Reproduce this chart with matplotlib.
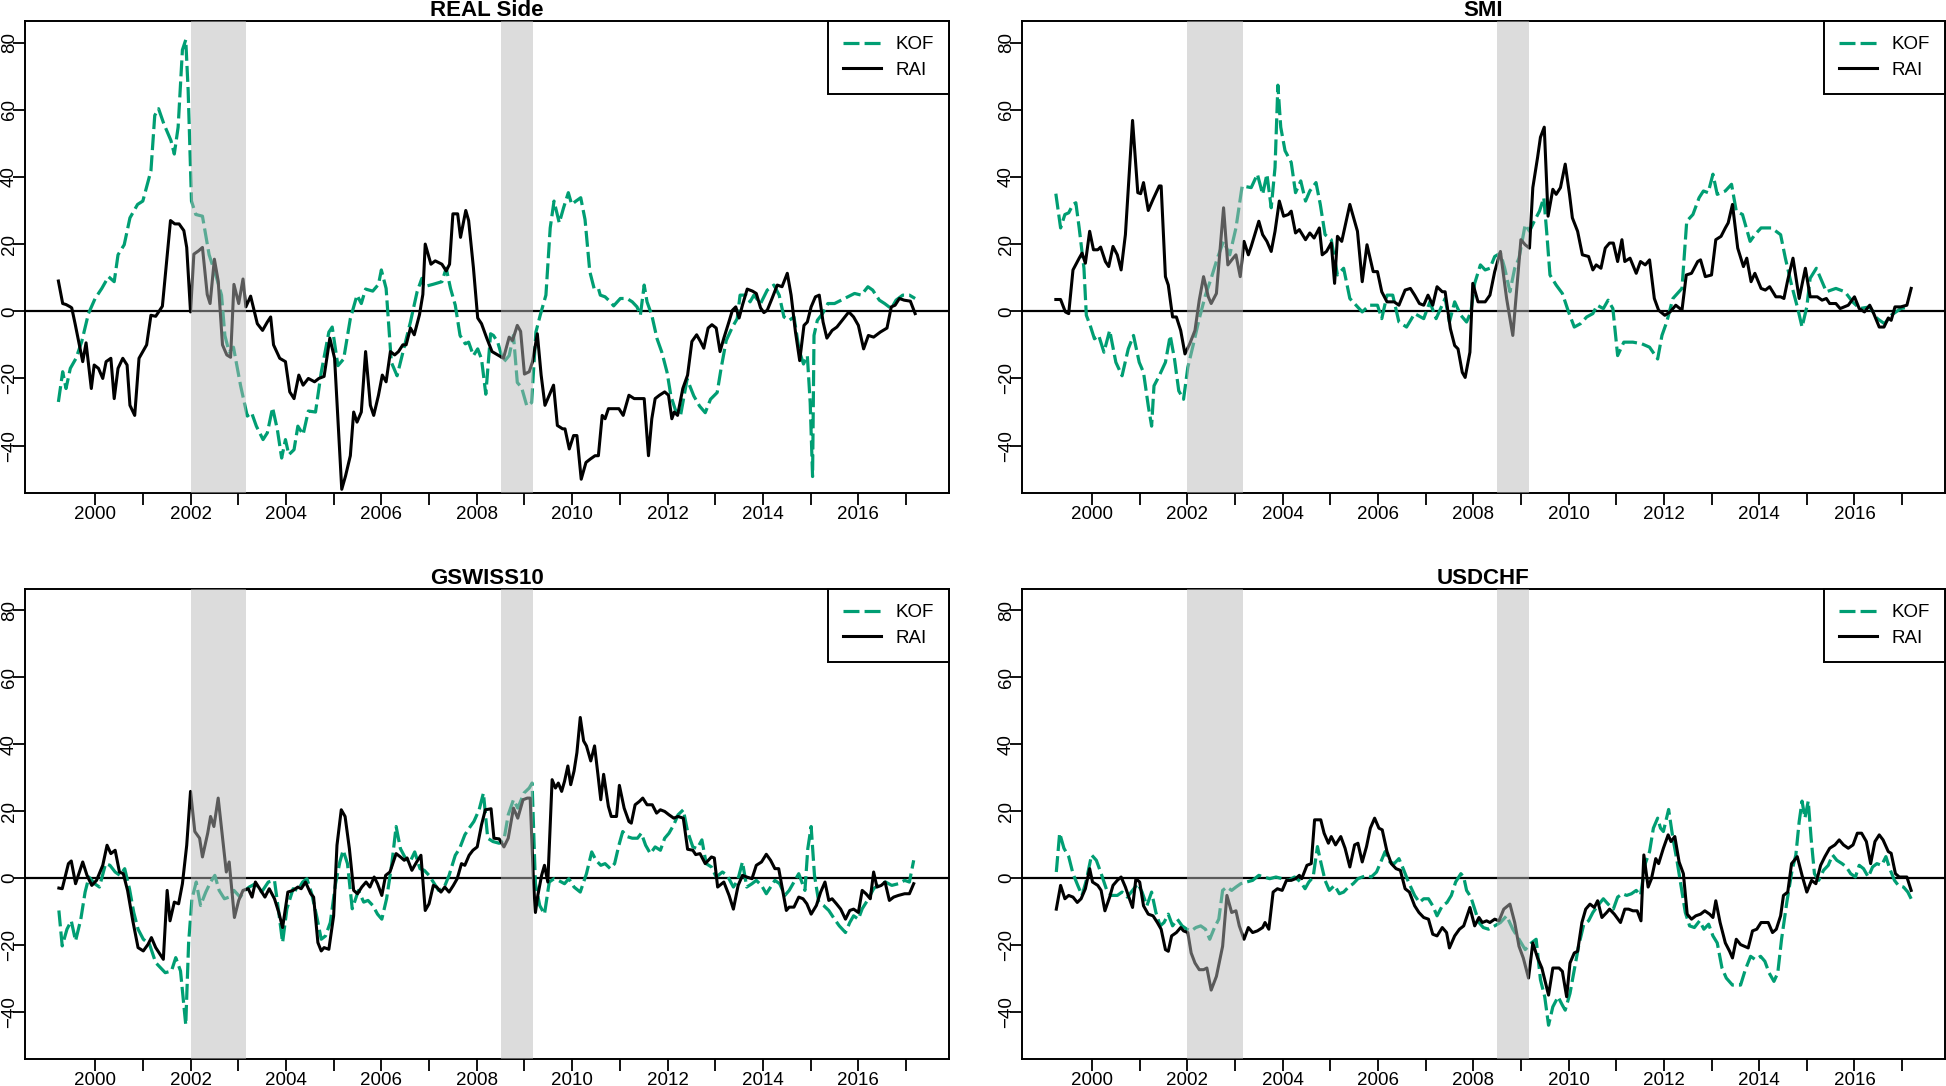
import numpy as np
import matplotlib.pyplot as plt

plt.rcParams['font.family'] = ['Liberation Sans', 'DejaVu Sans']

years = list(range(2000, 2018))
year_labels = [str(y) if y % 2 == 0 else '' for y in years]
value_ticks = [-40, -20, 0, 20, 40, 60, 80]
recessions = [(2002.0, 2003.17), (2008.5, 2009.17)]
titles = ['REAL Side', 'SMI', 'GSWISS10', 'USDCHF']

# (year, value)
real_rai = [(1999.23, 9), (1999.32, 2.3), (1999.39, 2), (1999.48, 1.3), (1999.51, 1.0), (1999.58, -3.7),
            (1999.67, -10), (1999.74, -15), (1999.81, -9.4), (1999.92, -23), (1999.98, -16), (2000.07, -17),
            (2000.16, -20), (2000.23, -15), (2000.33, -14), (2000.40, -26), (2000.48, -17), (2000.58, -14),
            (2000.67, -16), (2000.73, -28), (2000.83, -31), (2000.92, -14), (2001.08, -10), (2001.17, -1.2),
            (2001.27, -1.5), (2001.33, -0.2), (2001.41, 1.5), (2001.58, 27), (2001.67, 26), (2001.76, 26),
            (2001.86, 24), (2001.92, 19), (2002.0, -0.2), (2002.07, 17), (2002.17, 18), (2002.25, 19),
            (2002.35, 5), (2002.41, 2.3), (2002.5, 15.5), (2002.58, 9), (2002.67, -10), (2002.76, -13),
            (2002.84, -13.7), (2002.91, 8), (2003.01, 2.3), (2003.1, 9.6), (2003.16, 1.3), (2003.26, 4.5),
            (2003.4, -3.7), (2003.51, -5.7), (2003.61, -3.2), (2003.68, -1.7), (2003.74, -10), (2003.87, -14),
            (2003.99, -15), (2004.08, -24), (2004.17, -26), (2004.27, -19), (2004.36, -22), (2004.47, -20),
            (2004.6, -21), (2004.69, -20), (2004.8, -19.4), (2004.92, -8), (2005.02, -14), (2005.17, -53),
            (2005.25, -49), (2005.35, -43), (2005.42, -30), (2005.49, -33), (2005.58, -30), (2005.67, -12),
            (2005.77, -28), (2005.84, -31), (2005.94, -25), (2006.02, -19), (2006.1, -21), (2006.19, -12),
            (2006.28, -13), (2006.36, -12), (2006.45, -10), (2006.52, -10), (2006.61, -5), (2006.69, -7),
            (2006.8, -1), (2006.87, 5), (2006.92, 20), (2007.04, 14), (2007.13, 15), (2007.27, 14),
            (2007.36, 12), (2007.43, 14), (2007.5, 29), (2007.6, 29), (2007.66, 22), (2007.77, 30),
            (2007.83, 27), (2007.93, 13), (2008.02, -2), (2008.1, -3.7), (2008.21, -8), (2008.32, -12),
            (2008.44, -13), (2008.56, -14), (2008.68, -7.7), (2008.75, -8.7), (2008.85, -4.2), (2008.92, -6),
            (2009.0, -18.7), (2009.1, -18), (2009.17, -15), (2009.27, -6.7), (2009.35, -19), (2009.43, -28),
            (2009.52, -25), (2009.61, -22), (2009.69, -34), (2009.8, -35), (2009.85, -35), (2009.94, -41),
            (2010.03, -37), (2010.1, -37), (2010.19, -50), (2010.29, -45), (2010.38, -44), (2010.48, -43),
            (2010.55, -43), (2010.63, -31), (2010.69, -32), (2010.76, -29), (2010.85, -29), (2010.98, -29),
            (2011.07, -31), (2011.19, -25), (2011.3, -26), (2011.44, -26), (2011.51, -26), (2011.6, -43),
            (2011.67, -32), (2011.74, -26), (2011.83, -25), (2011.94, -24), (2012.02, -25), (2012.09, -32),
            (2012.14, -30), (2012.21, -31), (2012.32, -23), (2012.42, -19), (2012.51, -9), (2012.61, -7),
            (2012.69, -9), (2012.76, -11), (2012.85, -5), (2012.93, -4), (2013.02, -5), (2013.1, -12),
            (2013.18, -8), (2013.29, -3), (2013.36, 0.3), (2013.43, 1.3), (2013.5, -2), (2013.57, 1.8),
            (2013.67, 6.6), (2013.78, 6), (2013.86, 5.3), (2013.95, 1), (2014.02, -0.4), (2014.09, 0.3),
            (2014.19, 3.8), (2014.3, 7.8), (2014.4, 7.3), (2014.51, 11.3), (2014.59, 4.8), (2014.68, -6),
            (2014.77, -14.7), (2014.86, -4.2), (2014.93, -3.2), (2015.01, 1.3), (2015.1, 4.3), (2015.18, 4.8),
            (2015.26, -3.2), (2015.34, -8), (2015.45, -5.7), (2015.55, -4.7), (2015.66, -2.7), (2015.8, -0.2),
            (2015.9, -1.7), (2016.0, -4.2), (2016.11, -11.2), (2016.21, -7.2), (2016.32, -7.7), (2016.46, -6.2),
            (2016.6, -5), (2016.69, 1.3), (2016.77, 1.8), (2016.86, 3.8), (2016.96, 3.3), (2017.09, 3),
            (2017.19, -0.7)]

real_kof = [(1999.23, -27), (1999.32, -18), (1999.39, -23), (1999.48, -17), (1999.6, -14), (1999.72, -9),
            (1999.86, -0.7), (2000.0, 3.8), (2000.14, 6.8), (2000.28, 10.3), (2000.4, 8.8), (2000.48, 16.8),
            (2000.61, 19.8), (2000.73, 27.8), (2000.89, 31.8), (2001.0, 32.8), (2001.17, 41.8), (2001.25, 58.3),
            (2001.33, 60.3), (2001.44, 55.8), (2001.59, 50.8), (2001.66, 46.8), (2001.74, 54.8), (2001.83, 77.8),
            (2001.9, 80.8), (2001.95, 65.8), (2002.02, 32.8), (2002.11, 28.8), (2002.25, 28.3), (2002.39, 16.8),
            (2002.55, 9.8), (2002.65, 4.8), (2002.72, -7.2), (2002.81, -12.2), (2002.9, -10.7), (2003.05, -22.2),
            (2003.19, -31.2), (2003.28, -30.2), (2003.38, -34.2), (2003.52, -38.2), (2003.61, -36.2),
            (2003.72, -28.7), (2003.82, -35.2), (2003.91, -43.7), (2003.99, -38.2), (2004.06, -42.7),
            (2004.17, -41.2), (2004.25, -34.2), (2004.36, -36.7), (2004.47, -29.7), (2004.62, -30),
            (2004.74, -18.2), (2004.9, -6.2), (2004.97, -4.7), (2005.09, -16.2), (2005.21, -14.2),
            (2005.35, -2.2), (2005.49, 4.8), (2005.58, 2.3), (2005.67, 6.6), (2005.82, 6), (2005.94, 8),
            (2006.0, 12.3), (2006.1, 6.8), (2006.21, -15.2), (2006.33, -19.2), (2006.47, -11.2), (2006.61, -3.2),
            (2006.75, 5.8), (2006.85, 9.8), (2006.89, 7.3), (2007.08, 8), (2007.27, 8.8), (2007.36, 12.8),
            (2007.45, 6.8), (2007.55, 1.8), (2007.65, -7.2), (2007.76, -9.7), (2007.83, -9.2), (2007.93, -13.2),
            (2008.02, -11.2), (2008.1, -14.2), (2008.19, -24.7), (2008.29, -6.7), (2008.35, -7.2),
            (2008.44, -9.2), (2008.56, -15.2), (2008.68, -13.2), (2008.77, -7.2), (2008.85, -21.2),
            (2008.94, -22.7), (2009.05, -28.2), (2009.15, -27.2), (2009.24, -6.2), (2009.33, -1.2),
            (2009.45, 4.8), (2009.54, 24.8), (2009.62, 32.8), (2009.73, 26.3), (2009.82, 30.8), (2009.92, 35.3),
            (2009.99, 31.8), (2010.08, 32.8), (2010.18, 33.8), (2010.27, 27.3), (2010.37, 11.8), (2010.46, 6.8),
            (2010.55, 6.8), (2010.59, 4.8), (2010.69, 4.3), (2010.8, 2.8), (2010.87, 1.6), (2011.01, 3.8),
            (2011.15, 3.8), (2011.26, 2.8), (2011.36, 1.3), (2011.43, -1.2), (2011.51, 7.8), (2011.57, 2.8),
            (2011.67, -1.2), (2011.78, -8.2), (2011.88, -12.2), (2011.99, -18.2), (2012.07, -25.2),
            (2012.16, -29.2), (2012.27, -31.2), (2012.41, -20.2), (2012.55, -25.2), (2012.67, -28.2),
            (2012.79, -30.2), (2012.9, -26.2), (2013.04, -24.2), (2013.12, -17.2), (2013.23, -8.7),
            (2013.36, -4.7), (2013.46, -2.2), (2013.52, 4.8), (2013.64, 4.8), (2013.73, 2.8), (2013.81, 4.8),
            (2013.95, 2.3), (2014.09, 6.3), (2014.23, 7.8), (2014.34, 4.8), (2014.44, -1.7), (2014.55, -2.7),
            (2014.65, -1.7), (2014.76, -11.7), (2014.85, -15.7), (2014.93, -13.2), (2014.99, -27.2),
            (2015.04, -49.2), (2015.07, -7.2), (2015.14, -2.7), (2015.25, -0.7), (2015.36, 2.3), (2015.5, 2.3),
            (2015.64, 3.3), (2015.78, 4.3), (2015.92, 5.3), (2016.06, 4.8), (2016.2, 7.3), (2016.3, 6.3),
            (2016.44, 3.3), (2016.55, 2.3), (2016.69, 0.8), (2016.79, 3.3), (2016.93, 4.8), (2017.07, 4.8),
            (2017.19, 3.8)]

smi_rai = [(1999.24, 3.5), (1999.34, 3.5), (1999.44, -0.2), (1999.51, -0.7), (1999.6, 12.3), (1999.73, 15.8),
           (1999.79, 17.3), (1999.86, 14.3), (1999.95, 23.8), (2000.03, 18.3), (2000.12, 18.3), (2000.18, 19.1),
           (2000.28, 14.8), (2000.35, 13.3), (2000.44, 19.3), (2000.53, 16.8), (2000.61, 12.3), (2000.7, 22.8),
           (2000.85, 56.8), (2000.96, 35.3), (2001.02, 35), (2001.08, 38.3), (2001.18, 30), (2001.28, 33.3),
           (2001.41, 37.3), (2001.45, 37.3), (2001.54, 10.3), (2001.6, 7.8), (2001.69, -1.7), (2001.77, -1.7),
           (2001.86, -5.7), (2001.95, -12.7), (2002.05, -9.7), (2002.16, -5.7), (2002.25, 3.3), (2002.34, 10.3),
           (2002.44, 4.3), (2002.5, 2.3), (2002.61, 5.3), (2002.76, 30.8), (2002.85, 13.8), (2002.96, 15.8),
           (2003.02, 16.8), (2003.11, 10.3), (2003.19, 20.8), (2003.28, 16.8), (2003.34, 19.3), (2003.5, 26.8),
           (2003.58, 22.8), (2003.67, 20.8), (2003.76, 17.8), (2003.84, 23.8), (2003.93, 32.8), (2004.02, 28.3),
           (2004.12, 28.8), (2004.18, 29.8), (2004.27, 23.3), (2004.35, 24.3), (2004.48, 21.3), (2004.57, 23.3),
           (2004.66, 21.8), (2004.77, 24.8), (2004.83, 16.8), (2004.92, 17.8), (2005.02, 20.3), (2005.09, 8.3),
           (2005.15, 22.3), (2005.24, 20.8), (2005.41, 31.8), (2005.57, 23.8), (2005.67, 8.8), (2005.77, 19.8),
           (2005.9, 11.8), (2005.99, 11.8), (2006.08, 5.8), (2006.19, 2.8), (2006.34, 2.8), (2006.44, 1.8),
           (2006.57, 6.3), (2006.68, 6.8), (2006.77, 4.8), (2006.87, 2.3), (2006.96, 1.8), (2007.05, 4.8),
           (2007.15, 1.8), (2007.24, 7.3), (2007.35, 5.8), (2007.41, 5.8), (2007.52, -5.2), (2007.61, -10.2),
           (2007.68, -11.2), (2007.77, -18.2), (2007.83, -19.7), (2007.93, -12.2), (2007.99, 8.3), (2008.1, 2.8),
           (2008.25, 2.8), (2008.35, 4.8), (2008.45, 11.8), (2008.57, 17.8), (2008.7, 3.8), (2008.83, -7.2),
           (2008.92, 7.8), (2009.0, 21.3), (2009.09, 19.8), (2009.18, 18.8), (2009.25, 36.8), (2009.35, 45.8),
           (2009.41, 51.8), (2009.49, 54.8), (2009.57, 28.3), (2009.67, 36.3), (2009.74, 34.8), (2009.83, 36.8),
           (2009.93, 43.8), (2010.02, 34.8), (2010.08, 27.8), (2010.19, 23.8), (2010.29, 16.8), (2010.42, 16.3),
           (2010.51, 12.3), (2010.58, 13.8), (2010.68, 12.8), (2010.77, 18.8), (2010.86, 20.3), (2010.94, 20.3),
           (2011.03, 14.8), (2011.12, 21.3), (2011.18, 14.8), (2011.29, 15.8), (2011.42, 11.3), (2011.51, 14.8),
           (2011.61, 13.8), (2011.7, 15.3), (2011.8, 3.8), (2011.89, 0.3), (2012.02, -1.2), (2012.13, -0.2),
           (2012.25, 1.8), (2012.38, 0.3), (2012.47, 10.8), (2012.58, 11.3), (2012.71, 14.8), (2012.77, 15.3),
           (2012.87, 10.3), (2013.0, 10.8), (2013.09, 21.3), (2013.2, 22.3), (2013.29, 24.8), (2013.35, 26.3),
           (2013.44, 31.8), (2013.55, 18.8), (2013.67, 13.3), (2013.74, 15.8), (2013.83, 8.8), (2013.91, 11.3),
           (2014.04, 6.8), (2014.13, 6.3), (2014.22, 7.3), (2014.35, 4.3), (2014.45, 4.3), (2014.52, 3.8),
           (2014.6, 9.3), (2014.71, 15.8), (2014.84, 3.8), (2014.97, 12.8), (2015.07, 4.3), (2015.22, 4.3),
           (2015.32, 3.3), (2015.41, 3.8), (2015.48, 2.3), (2015.61, 2.3), (2015.7, 0.8), (2015.87, 1.8),
           (2016.0, 4.3), (2016.1, 0.8), (2016.21, -0.2), (2016.32, 1.8), (2016.39, -0.2), (2016.52, -4.7),
           (2016.62, -4.7), (2016.71, -2), (2016.77, -2.7), (2016.85, 1.3), (2016.97, 1.3), (2017.1, 1.8),
           (2017.19, 6.8)]

smi_kof = [(1999.24, 35), (1999.34, 24.8), (1999.43, 28.8), (1999.51, 29.3), (1999.6, 31.8), (1999.66, 32.3),
           (1999.73, 24.8), (1999.83, 12.8), (1999.88, -1.2), (1999.96, -4.2), (2000.05, -8.2), (2000.14, -7.2),
           (2000.25, -12.2), (2000.37, -5.7), (2000.5, -15.2), (2000.63, -19.2), (2000.76, -11.2), (2000.87, -7.2),
           (2000.99, -15.2), (2001.08, -18.2), (2001.18, -28.2), (2001.25, -34.2), (2001.3, -22.2), (2001.41, -19.2),
           (2001.54, -15.2), (2001.64, -7.2), (2001.73, -14.2), (2001.82, -23.7), (2001.92, -26.2), (2002.01, -16.7),
           (2002.12, -10.2), (2002.25, -2.2), (2002.38, 4.8), (2002.5, 9.8), (2002.63, 15.8), (2002.76, 20.8),
           (2002.89, 16.8), (2003.02, 24.8), (2003.15, 37.3), (2003.34, 36.8), (2003.47, 40.8), (2003.58, 34.8),
           (2003.67, 40.8), (2003.76, 30.8), (2003.84, 42.8), (2003.9, 67.3), (2003.96, 54.8), (2004.05, 47.8),
           (2004.18, 44.3), (2004.27, 35.3), (2004.38, 38.8), (2004.48, 32.8), (2004.57, 35.8), (2004.7, 38.3),
           (2004.79, 31.8), (2004.89, 22.8), (2005.02, 21.3), (2005.15, 10.8), (2005.28, 12.8), (2005.41, 3.8),
           (2005.54, 1.8), (2005.67, -0.2), (2005.82, 1.8), (2005.99, 1.8), (2006.08, -2.2), (2006.19, 4.8),
           (2006.31, 4.8), (2006.44, -3.2), (2006.6, -4.7), (2006.77, -0.7), (2006.96, -2.2), (2007.09, 2.8),
           (2007.22, -2.2), (2007.41, 3.8), (2007.5, -3.2), (2007.61, 2.8), (2007.74, -1.2), (2007.86, -3.2),
           (2007.95, -0.2), (2008.03, 8.3), (2008.15, 13.8), (2008.25, 12.3), (2008.35, 12.8), (2008.45, 16.3),
           (2008.57, 17.3), (2008.66, 12.8), (2008.77, 5.8), (2008.87, 12.8), (2008.96, 15.8), (2009.09, 25.8),
           (2009.18, 23.8), (2009.28, 26.8), (2009.39, 29.8), (2009.48, 33.8), (2009.54, 23.8), (2009.61, 10.8),
           (2009.74, 7.8), (2009.87, 5.3), (2010.0, -0.2), (2010.12, -4.7), (2010.25, -3.7), (2010.38, -1.7),
           (2010.51, -0.7), (2010.6, 1.8), (2010.73, 0.8), (2010.83, 3.3), (2010.93, 0.8), (2011.03, -13.2),
           (2011.16, -9.2), (2011.35, -9.2), (2011.54, -9.7), (2011.7, -10.7), (2011.87, -14.2), (2011.96, -7.2),
           (2012.06, -3.2), (2012.19, 3.8), (2012.38, 6.8), (2012.48, 26.8), (2012.61, 28.8), (2012.74, 33.8),
           (2012.83, 35.8), (2012.93, 35.3), (2013.03, 40.8), (2013.12, 34.8), (2013.29, 35.8), (2013.42, 37.8),
           (2013.52, 29.8), (2013.65, 28.8), (2013.81, 20.8), (2013.91, 22.8), (2014.04, 24.8), (2014.26, 24.8),
           (2014.45, 22.8), (2014.55, 15.8), (2014.68, 7.8), (2014.81, 0.8), (2014.9, -4.7), (2015.0, 1.3),
           (2015.07, 9.8), (2015.2, 12.8), (2015.32, 8.8), (2015.41, 5.8), (2015.61, 6.8), (2015.8, 5.8),
           (2015.96, 2.8), (2016.11, 0.8), (2016.32, 1.3), (2016.48, -2.2), (2016.63, -3.7), (2016.77, -1.2),
           (2016.97, 0.8), (2017.16, 1.3)]

gswiss_rai = [(1999.24, -3), (1999.31, -3.2), (1999.44, 4.3), (1999.5, 5.1), (1999.59, -1.7), (1999.74, 4.8),
              (1999.83, 0.8), (1999.93, -2.2), (2000.03, -0.7), (2000.16, 3.8), (2000.25, 9.8), (2000.33, 7.3),
              (2000.42, 8.3), (2000.51, 1.8), (2000.59, 1.3), (2000.68, -3.7), (2000.79, -12.8), (2000.9, -20.8),
              (2001.01, -21.8), (2001.11, -19.8), (2001.18, -17.8), (2001.27, -20.8), (2001.43, -24.3),
              (2001.51, -3.7), (2001.57, -12.8), (2001.66, -7.2), (2001.75, -7.7), (2001.83, -1.7), (2001.92, 9.8),
              (2002.0, 25.9), (2002.09, 13.9), (2002.19, 11.9), (2002.25, 6.3), (2002.36, 13.4), (2002.42, 18.4),
              (2002.49, 15.4), (2002.58, 23.9), (2002.68, 10.9), (2002.75, 1.8), (2002.81, 4.8), (2002.92, -11.8),
              (2003.01, -6.7), (2003.1, -3.7), (2003.21, -3.2), (2003.29, -5.7), (2003.36, -1.2), (2003.47, -3.7),
              (2003.56, -5.7), (2003.65, -3.2), (2003.76, -6.2), (2003.85, -10.3), (2003.93, -14.8), (2004.04, -4.2),
              (2004.15, -3.7), (2004.25, -2.7), (2004.32, -3.2), (2004.41, -1.2), (2004.52, -4.7), (2004.58, -5.7),
              (2004.67, -19.3), (2004.74, -21.8), (2004.8, -20.8), (2004.9, -21.3), (2005.0, -11.3), (2005.07, 9.8),
              (2005.16, 20.4), (2005.24, 18.4), (2005.33, 8.8), (2005.42, -3.7), (2005.5, -4.7), (2005.59, -2.7),
              (2005.68, -1.2), (2005.76, -2.7), (2005.85, 0.3), (2005.92, -1.7), (2006.01, -5.2), (2006.09, 0.8),
              (2006.18, 1.8), (2006.31, 7.3), (2006.4, 6.3), (2006.48, 5.3), (2006.54, 6.0), (2006.64, 2.3),
              (2006.74, 4.8), (2006.83, 6.8), (2006.92, -9.7), (2007.0, -7.7), (2007.09, -2.2), (2007.16, -2.7),
              (2007.25, -4.2), (2007.33, -2.7), (2007.42, -4.2), (2007.51, -2.2), (2007.59, -0.2), (2007.68, 4.3),
              (2007.75, 3.8), (2007.84, 6.8), (2007.92, 8.3), (2008.01, 9.3), (2008.1, 15.9), (2008.18, 20.4),
              (2008.3, 20.7), (2008.36, 11.9), (2008.47, 11.7), (2008.57, 9.3), (2008.66, 11.9), (2008.77, 20.9),
              (2008.86, 17.9), (2008.97, 23.4), (2009.06, 23.9), (2009.12, 23.9), (2009.19, -1.2), (2009.23, -10.3),
              (2009.28, -5.2), (2009.36, 0.8), (2009.42, 3.8), (2009.49, -1.2), (2009.58, 29.4), (2009.65, 26.9),
              (2009.71, 28.4), (2009.78, 25.9), (2009.84, 28.9), (2009.91, 33.5), (2009.97, 27.9), (2010.04, 32),
              (2010.1, 37.5), (2010.17, 48), (2010.24, 41), (2010.3, 39.5), (2010.39, 35), (2010.47, 39.5),
              (2010.54, 31), (2010.6, 23.4), (2010.66, 31), (2010.76, 21.4), (2010.82, 18.4), (2010.93, 18.4),
              (2010.99, 27.7), (2011.09, 20.9), (2011.19, 16.9), (2011.24, 16.4), (2011.32, 21.9), (2011.41, 22.9),
              (2011.48, 23.9), (2011.57, 21.9), (2011.68, 21.9), (2011.77, 19.4), (2011.85, 20.4), (2011.94, 19.9),
              (2012.03, 18.9), (2012.13, 17.9), (2012.22, 18.4), (2012.33, 17.9), (2012.42, 8.6), (2012.53, 8.3),
              (2012.59, 7.0), (2012.68, 7.3), (2012.79, 4.3), (2012.92, 6.3), (2012.98, 6.0), (2013.05, -2.7),
              (2013.18, -1.2), (2013.29, -5.2), (2013.38, -9.3), (2013.48, -2.2), (2013.57, 0.8), (2013.66, 0.3),
              (2013.77, -0.2), (2013.86, 3.8), (2013.97, 4.8), (2014.07, 7.1), (2014.16, 5.3), (2014.25, 2.8),
              (2014.33, 2.8), (2014.42, -4.2), (2014.49, -9.7), (2014.55, -8.7), (2014.65, -8.7), (2014.75, -5.7),
              (2014.84, -6.2), (2014.92, -7.7), (2015.01, -10.8), (2015.12, -8.2), (2015.21, -4.2), (2015.3, -1.2),
              (2015.38, -6.7), (2015.45, -6.2), (2015.54, -7.7), (2015.63, -9.3), (2015.73, -12.3), (2015.82, -9.7),
              (2015.9, -9.3), (2016.0, -10.3), (2016.08, -3.7), (2016.16, -4.7), (2016.25, -6.2), (2016.32, 1.8),
              (2016.39, -2.7), (2016.48, -2.2), (2016.56, -1.2), (2016.65, -6.7), (2016.74, -5.7), (2016.84, -5.2),
              (2016.97, -4.7), (2017.07, -4.7), (2017.16, -1.7)]

gswiss_kof = [(1999.24, -9.7), (1999.31, -20.3), (1999.41, -15.3), (1999.5, -12.8), (1999.59, -18.8),
              (1999.7, -12.3), (1999.79, -4.2), (1999.87, 0.3), (1999.99, -1.7), (2000.09, -2.7), (2000.22, 4.3),
              (2000.31, 3.8), (2000.42, 1.8), (2000.52, 0.8), (2000.62, 2.8), (2000.72, -3.2), (2000.81, -10.3),
              (2000.9, -15.3), (2001.01, -18.3), (2001.14, -19.8), (2001.27, -25.3), (2001.37, -26.8),
              (2001.47, -28.3), (2001.6, -27.8), (2001.69, -23.8), (2001.79, -27.8), (2001.9, -43.9),
              (2001.96, -19.3), (2002.03, -6.2), (2002.12, -1.2), (2002.21, -8.2), (2002.32, -4.2), (2002.42, -1.2),
              (2002.51, 0.8), (2002.6, -3.7), (2002.71, -6.2), (2002.81, -5.7), (2002.91, -3.7), (2003.04, -5.7),
              (2003.14, -3.7), (2003.23, -2.7), (2003.36, -1.7), (2003.49, -4.2), (2003.63, -1.2), (2003.76, -0.7),
              (2003.85, -10.3), (2003.93, -19.3), (2004.02, -9.2), (2004.15, -3.2), (2004.25, -3.7), (2004.35, -1.2),
              (2004.44, -0.2), (2004.54, -4.7), (2004.65, -11.8), (2004.74, -18.3), (2004.83, -17.3),
              (2004.93, -13.3), (2005.04, -1.7), (2005.13, 4.8), (2005.2, 8.3), (2005.29, 4.3), (2005.39, -9.2),
              (2005.52, -3.7), (2005.63, -7.2), (2005.72, -6.7), (2005.82, -8.2), (2005.92, -10.8), (2006.01, -12.3),
              (2006.11, -6.2), (2006.22, 4.3), (2006.31, 15.4), (2006.4, 8.8), (2006.51, 5.8), (2006.6, 4.8),
              (2006.7, 7.8), (2006.81, 2.8), (2006.9, 2.3), (2007.0, 0.8), (2007.09, -1.2), (2007.2, -3.7),
              (2007.32, -2.7), (2007.42, 0.8), (2007.55, 6.8), (2007.64, 8.8), (2007.75, 12.9), (2007.84, 14.9),
              (2007.94, 16.9), (2008.05, 20.4), (2008.14, 25.4), (2008.23, 11.9), (2008.34, 10.9), (2008.47, 10.4),
              (2008.57, 11.4), (2008.66, 18.9), (2008.77, 23.4), (2008.86, 20.9), (2008.99, 25.4), (2009.1, 26.9),
              (2009.16, 28.4), (2009.23, -1.7), (2009.32, -8.2), (2009.42, -10.8), (2009.52, -1.2), (2009.62, -0.2),
              (2009.71, -0.7), (2009.84, -1.7), (2009.93, -0.2), (2010.04, -2.7), (2010.17, -4.2), (2010.3, 1.3),
              (2010.41, 7.8), (2010.5, 5.3), (2010.6, 3.8), (2010.69, 4.3), (2010.8, 2.8), (2010.89, 4.3),
              (2010.98, 9.8), (2011.06, 13.9), (2011.15, 12.4), (2011.26, 11.9), (2011.37, 11.9), (2011.45, 13.4),
              (2011.54, 9.8), (2011.64, 7.3), (2011.74, 9.3), (2011.85, 8.3), (2011.94, 11.9), (2012.03, 13.4),
              (2012.13, 15.9), (2012.22, 18.9), (2012.33, 20.4), (2012.42, 13.9), (2012.53, 9.3), (2012.62, 8.8),
              (2012.72, 11.4), (2012.81, 4.3), (2012.92, 3.3), (2013.02, 0.3), (2013.15, 1.8), (2013.25, 0.8),
              (2013.38, -2.7), (2013.47, -0.7), (2013.57, 4.8), (2013.66, -2.7), (2013.77, -1.7), (2013.86, -0.7),
              (2013.97, -2.2), (2014.07, -4.7), (2014.16, -2.7), (2014.25, -0.7), (2014.35, -1.7), (2014.46, -5.2),
              (2014.55, -3.7), (2014.65, -1.2), (2014.75, 1.3), (2014.88, -3.7), (2014.94, 8.8), (2015.01, 15.4),
              (2015.08, 0.8), (2015.17, -7.2), (2015.27, -8.2), (2015.38, -9.7), (2015.5, -12.3), (2015.6, -14.3),
              (2015.73, -16.3), (2015.82, -13.3), (2015.9, -11.3), (2016.0, -12.3), (2016.08, -9.2), (2016.19, -6.7),
              (2016.32, -3.2), (2016.45, -1.7), (2016.57, -1.2), (2016.7, -2.2), (2016.84, -1.7), (2016.97, -0.7),
              (2017.07, -1.2), (2017.16, 5.3)]

usdchf_rai = [(1999.25, -9.3), (1999.34, -2.2), (1999.43, -6.2), (1999.51, -5.2), (1999.6, -5.7), (1999.69, -7.3),
              (1999.77, -6.2), (1999.86, -3.2), (1999.95, 2.8), (2000.01, -1.2), (2000.12, -2.2), (2000.19, -3.7),
              (2000.27, -9.8), (2000.37, -5.7), (2000.44, -2.2), (2000.53, -0.7), (2000.61, 0.3), (2000.7, -2.7),
              (2000.76, -5.2), (2000.85, -8.8), (2000.92, -0.2), (2001.0, -1.2), (2001.08, -8.3), (2001.18, -10.8),
              (2001.28, -11.3), (2001.37, -13.3), (2001.45, -15.3), (2001.54, -21.4), (2001.6, -21.9),
              (2001.67, -17.3), (2001.77, -16.3), (2001.86, -14.8), (2001.92, -15.8), (2002.01, -16.3),
              (2002.08, -22.4), (2002.16, -25.4), (2002.25, -27.4), (2002.34, -27.4), (2002.41, -26.9),
              (2002.5, -33.5), (2002.61, -29.4), (2002.74, -20.4), (2002.83, -5.2), (2002.93, -10.3), (2003.02, -9.8),
              (2003.09, -14.3), (2003.19, -18.3), (2003.28, -14.8), (2003.37, -16.3), (2003.47, -15.8),
              (2003.58, -14.8), (2003.63, -13.3), (2003.71, -15.3), (2003.8, -4.2), (2003.89, -3.2), (2003.99, -3.7),
              (2004.08, -0.7), (2004.18, -0.7), (2004.27, -0.2), (2004.35, 0.8), (2004.4, -0.2), (2004.51, 3.8),
              (2004.6, 4.3), (2004.67, 17.4), (2004.8, 17.4), (2004.87, 13.4), (2004.96, 10.4), (2005.02, 12.4),
              (2005.11, 9.9), (2005.22, 12.4), (2005.31, 8.9), (2005.41, 3.3), (2005.51, 9.9), (2005.58, 10.4),
              (2005.67, 4.8), (2005.76, 9.4), (2005.84, 14.9), (2005.93, 17.9), (2006.02, 14.9), (2006.09, 14.4),
              (2006.19, 7.9), (2006.28, 4.3), (2006.38, 2.8), (2006.47, 2.3), (2006.57, -3.2), (2006.66, -4.2),
              (2006.77, -8.3), (2006.86, -10.3), (2006.96, -11.8), (2007.06, -12.3), (2007.15, -16.8),
              (2007.24, -17.3), (2007.35, -14.8), (2007.44, -16.3), (2007.5, -20.9), (2007.61, -17.3),
              (2007.71, -15.3), (2007.8, -14.3), (2007.93, -8.8), (2008.03, -14.3), (2008.12, -11.8),
              (2008.19, -13.3), (2008.28, -12.8), (2008.35, -13.3), (2008.45, -12.3), (2008.54, -12.8),
              (2008.64, -9.3), (2008.77, -7.8), (2008.87, -13.3), (2008.96, -20.4), (2009.05, -23.9),
              (2009.16, -29.9), (2009.25, -19.4), (2009.35, -23.9), (2009.44, -26.9), (2009.52, -31.5),
              (2009.58, -35), (2009.67, -26.9), (2009.8, -26.9), (2009.87, -27.9), (2009.96, -35.5), (2010.03, -25.4),
              (2010.12, -22.4), (2010.19, -21.9), (2010.28, -13.3), (2010.36, -9.3), (2010.45, -7.8), (2010.54, -8.8),
              (2010.61, -6.8), (2010.7, -11.8), (2010.8, -10.3), (2010.86, -9.3), (2010.96, -10.8), (2011.09, -13.3),
              (2011.18, -9.3), (2011.26, -9.3), (2011.35, -9.8), (2011.44, -9.8), (2011.52, -12.8), (2011.58, 6.9),
              (2011.67, -2.7), (2011.74, -0.2), (2011.83, 5.8), (2011.89, 4.3), (2011.99, 8.9), (2012.09, 12.9),
              (2012.15, 10.9), (2012.23, 12.4), (2012.32, 4.8), (2012.41, 1.3), (2012.49, -10.8), (2012.58, -12.3),
              (2012.67, -11.3), (2012.77, -10.8), (2012.86, -9.8), (2012.96, -10.8), (2013.03, -11.8),
              (2013.09, -6.8), (2013.18, -13.3), (2013.29, -19.4), (2013.38, -21.9), (2013.44, -23.9),
              (2013.52, -18.3), (2013.61, -19.9), (2013.69, -20.4), (2013.77, -20.9), (2013.86, -15.8),
              (2013.95, -15.3), (2014.04, -13.3), (2014.12, -13.3), (2014.19, -13.3), (2014.28, -16.3),
              (2014.36, -15.3), (2014.45, -11.3), (2014.51, -5.2), (2014.6, -4.2), (2014.68, 4.3), (2014.8, 6.4),
              (2014.9, 0.8), (2015.0, -4.2), (2015.1, -0.7), (2015.19, -1.7), (2015.29, 3.8), (2015.38, 6.4),
              (2015.48, 8.9), (2015.59, 9.9), (2015.68, 11.4), (2015.77, 9.9), (2015.87, 8.9), (2015.97, 9.9),
              (2016.06, 13.4), (2016.15, 13.4), (2016.25, 10.9), (2016.34, 4.3), (2016.43, 10.9), (2016.52, 12.9),
              (2016.6, 11.4), (2016.71, 7.9), (2016.77, 7.4), (2016.86, 1.3), (2016.94, 0.3), (2017.03, 0.3),
              (2017.1, 0.3), (2017.19, -3.7)]

usdchf_kof = [(1999.25, 1.8), (1999.32, 13.4), (1999.41, 8.9), (1999.51, 6.4), (1999.6, 1.3), (1999.7, -2.2),
              (1999.79, -5.2), (1999.88, -0.7), (1999.99, 6.9), (2000.09, 5.3), (2000.18, 1.8), (2000.31, -3.7),
              (2000.41, -5.2), (2000.53, -5.2), (2000.63, -4.2), (2000.74, -5.7), (2000.85, -3.7), (2000.96, -1.7),
              (2001.05, -4.2), (2001.15, -8.3), (2001.25, -4.2), (2001.34, -10.3), (2001.43, -14.3), (2001.51, -13.3),
              (2001.6, -10.8), (2001.69, -14.3), (2001.79, -12.3), (2001.89, -14.3), (2001.99, -15.3),
              (2002.08, -15.8), (2002.18, -14.8), (2002.28, -14.3), (2002.38, -15.3), (2002.47, -18.3),
              (2002.57, -14.8), (2002.66, -12.3), (2002.74, -3.7), (2002.83, -2.7), (2002.93, -3.7), (2003.02, -2.7),
              (2003.12, -1.7), (2003.24, -1.2), (2003.37, -0.7), (2003.5, 0.8), (2003.6, 0.3), (2003.73, -0.2),
              (2003.86, 0.3), (2003.99, -0.2), (2004.12, -0.7), (2004.25, 0.3), (2004.38, -1.2), (2004.47, -3.2),
              (2004.55, -1.2), (2004.64, 0.3), (2004.73, 9.4), (2004.8, 4.8), (2004.89, -0.7), (2004.98, -3.7),
              (2005.09, -2.2), (2005.19, -4.7), (2005.28, -4.2), (2005.38, -2.7), (2005.48, -1.7), (2005.58, -0.2),
              (2005.67, 0.3), (2005.77, 0.8), (2005.86, 0.3), (2005.97, 1.8), (2006.06, 4.8), (2006.15, 7.9),
              (2006.25, 4.8), (2006.34, 4.3), (2006.44, 5.8), (2006.53, 2.8), (2006.64, -1.2), (2006.77, -5.2),
              (2006.87, -7.3), (2006.96, -6.2), (2007.06, -6.2), (2007.15, -8.3), (2007.24, -11.3), (2007.35, -8.3),
              (2007.45, -7.3), (2007.54, -5.2), (2007.63, -1.2), (2007.74, 1.3), (2007.8, 0.3), (2007.86, -3.7),
              (2007.95, -5.7), (2008.03, -9.3), (2008.12, -13.3), (2008.21, -14.8), (2008.32, -15.3),
              (2008.45, -14.3), (2008.57, -13.3), (2008.7, -11.3), (2008.83, -15.3), (2008.96, -18.3),
              (2009.09, -21.4), (2009.22, -19.4), (2009.32, -18.3), (2009.41, -30.4), (2009.5, -35.5), (2009.58, -44),
              (2009.67, -38.5), (2009.78, -35.5), (2009.87, -38), (2009.93, -39.5), (2010.03, -34.5),
              (2010.12, -27.4), (2010.21, -20.4), (2010.32, -13.8), (2010.42, -12.8), (2010.51, -10.3),
              (2010.61, -8.3), (2010.73, -6.2), (2010.83, -7.8), (2010.94, -9.3), (2011.03, -5.7), (2011.13, -4.7),
              (2011.22, -5.2), (2011.32, -4.7), (2011.42, -3.7), (2011.51, -5.2), (2011.61, 4.3), (2011.7, 7.9),
              (2011.78, 14.9), (2011.87, 17.9), (2011.93, 14.9), (2011.99, 13.9), (2012.1, 20.5), (2012.19, 11.9),
              (2012.28, 4.8), (2012.38, -4.2), (2012.45, -10.3), (2012.54, -14.3), (2012.64, -14.8),
              (2012.75, -12.8), (2012.84, -15.3), (2012.94, -13.8), (2013.03, -17.3), (2013.12, -19.4),
              (2013.22, -26.9), (2013.31, -29.9), (2013.44, -32), (2013.61, -32), (2013.71, -27.4), (2013.82, -23.4),
              (2013.92, -24.4), (2014.03, -23.4), (2014.12, -24.9), (2014.21, -28.4), (2014.31, -30.9),
              (2014.39, -28.4), (2014.47, -18.3), (2014.58, -7.3), (2014.69, 2.3), (2014.77, 6.9), (2014.84, 16.9),
              (2014.9, 23), (2014.96, 17.9), (2015.03, 23), (2015.09, 11.9), (2015.16, 1.3), (2015.25, -0.7),
              (2015.35, 2.3), (2015.45, 3.8), (2015.54, 6.9), (2015.63, 5.3), (2015.74, 4.3), (2015.83, 3.3),
              (2015.92, 1.3), (2016.02, 0.3), (2016.1, 3.8), (2016.19, 2.8), (2016.29, 0.3), (2016.38, 3.3),
              (2016.47, 4.3), (2016.57, 3.8), (2016.66, 6.4), (2016.74, 2.8), (2016.84, -0.7), (2016.92, -2.2),
              (2017.03, -2.7), (2017.12, -4.2), (2017.19, -6.2)]

panels = [(real_kof, real_rai), (smi_kof, smi_rai), (gswiss_kof, gswiss_rai), (usdchf_kof, usdchf_rai)]

W, H = 1946, 1086
fig = plt.figure(figsize=(W / 100, H / 100), dpi=100)

# axes boxes in pixels: (left, right, top, bottom)
cols = [(25, 949), (1022, 1945)]
rows = [(21, 493), (589, 1059)]

kof_color = '#009E73'
fs = 13.5

for i, (title, (kof, rai)) in enumerate(zip(titles, panels)):
    x0, x1 = cols[i % 2]
    y0, y1 = rows[i // 2]
    ax = fig.add_axes([x0 / W, 1 - y1 / H, (x1 - x0) / W, (y1 - y0) / H])

    kt, kv = np.array(kof).T
    rt, rv = np.array(rai).T
    ax.plot(kt, kv, color=kof_color, lw=2.3, dashes=(5, 1.6), label='KOF', zorder=2)
    ax.plot(rt, rv, color='black', lw=2.2, label='RAI', zorder=2.1)
    ax.axhline(0, color='black', lw=1.6, zorder=1.5)
    for a, b in recessions:
        ax.axvspan(a, b, color='#B8B8B8', alpha=0.49, lw=0, zorder=3)

    ax.set_xlim(1998.53, 2017.9)
    ax.set_ylim(-54.1, 86.4)
    ax.set_xticks(years)
    ax.set_xticklabels(year_labels)
    ax.set_yticks(value_ticks)
    ax.tick_params(axis='both', length=8.6, width=1.3, labelsize=fs, direction='out')
    ax.tick_params(axis='x', pad=0.5)
    ax.tick_params(axis='y', pad=-3.5)
    for lab in ax.get_yticklabels():
        lab.set_rotation(90)
        lab.set_va('center')
    for s in ax.spines.values():
        s.set_linewidth(1.4)
    ax.set_title(title, fontsize=16, fontweight='bold', pad=3)

    leg = ax.legend(loc='upper right', borderaxespad=0, fancybox=False, framealpha=1,
                    edgecolor='black', fontsize=fs, handlelength=2.0, handletextpad=0.8,
                    borderpad=0.8, labelspacing=0.45)
    leg.get_frame().set_linewidth(1.4)
    leg.set_zorder(5)

fig.savefig('out.png', dpi=100)
